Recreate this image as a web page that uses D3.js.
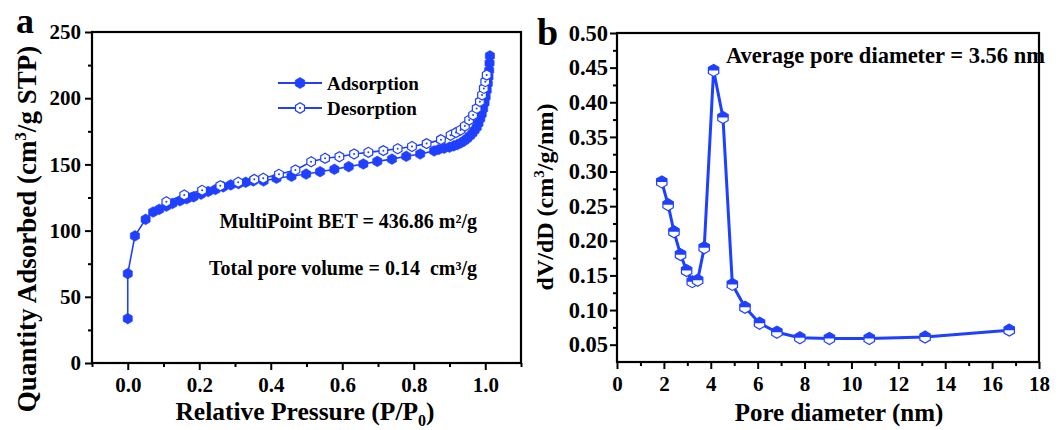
<!DOCTYPE html>
<html>
<head>
<meta charset="utf-8">
<script src="https://cdn.jsdelivr.net/npm/d3@7"></script>
<style>
  html, body { margin: 0; padding: 0; background: #fff; }
  svg { display: block; }
  text { font-family: "Liberation Serif", "Times New Roman", serif; font-weight: bold; fill: #000; }
</style>
</head>
<body>
<svg id="chart" width="1061" height="430"></svg>
<script>
// ---- Panel a: N2 isotherm (relative pressure vs quantity adsorbed) ----
const adsP = [0.0, 0.0, 0.02, 0.05, 0.071, 0.088, 0.108, 0.125, 0.146, 0.165, 0.184, 0.205, 0.225, 0.245, 0.267, 0.288, 0.31, 0.33, 0.351, 0.38,
  0.416, 0.458, 0.499, 0.538, 0.578, 0.618, 0.659, 0.698, 0.739, 0.779, 0.818, 0.857,
  0.87, 0.885, 0.9, 0.912, 0.922, 0.932, 0.941, 0.949, 0.957, 0.964, 0.97, 0.976, 0.981, 0.986, 0.99, 0.994, 0.998, 1.001, 1.004, 1.007, 1.009, 1.011, 1.012, 1.013];
const adsQ = [33.5, 67.5, 96, 108.5, 114, 116, 118.5, 120.5, 122.5, 124, 125.5, 127.5, 129.5, 131, 133, 134.5, 135.5, 136.5, 137.5, 137.5,
  139.5, 141, 142.7, 144.5, 146.3, 148.3, 150.3, 152.3, 154, 156.1, 157.9, 160.2,
  161.3, 162.2, 163, 164, 165, 166.3, 167.8, 169.5, 171.5, 173.5, 175.7, 178, 181, 184.5, 188, 192, 196.5, 201, 206, 211, 216, 221, 226.5, 232];
const desP = [0.108, 0.158, 0.208, 0.259, 0.309, 0.354, 0.379, 0.423, 0.469, 0.513, 0.552, 0.592, 0.633, 0.673, 0.715, 0.755, 0.795, 0.836, 0.876,
  0.903, 0.918, 0.931, 0.943, 0.955, 0.966, 0.976, 0.985, 0.991, 0.996, 1.0, 1.004];
const desQ = [121.8, 126.9, 130.4, 133.9, 136.5, 138.7, 139.5, 142.5, 145.8, 152, 154.6, 155.8, 157.9, 159.1, 160.4, 161.8, 163.5, 165.7, 168.7,
  172, 174, 176, 179, 183.5, 187.3, 192.3, 197.4, 202.4, 207.4, 212.5, 217.5];
const aXTicks = [0, 0.2, 0.4, 0.6, 0.8, 1.0];
const aXMinor = [-0.1, 0.1, 0.3, 0.5, 0.7, 0.9, 1.1];
const aYTicks = [0, 50, 100, 150, 200, 250];
const aYMinor = [25, 75, 125, 175, 225];

// ---- Panel b: pore size distribution ----
const poreD = [1.91, 2.18, 2.43, 2.71, 2.97, 3.21, 3.44, 3.72, 4.12, 4.52, 4.92, 5.46, 6.08, 6.82, 7.80, 9.06, 10.76, 13.14, 16.73];
const dVdD = [0.285, 0.252, 0.213, 0.180, 0.157, 0.141, 0.143, 0.190, 0.446, 0.378, 0.137, 0.104, 0.081, 0.068, 0.060, 0.059, 0.059, 0.061, 0.071];
const bXTicks = [0, 2, 4, 6, 8, 10, 12, 14, 16, 18];
const bXMinor = [1, 3, 5, 7, 9, 11, 13, 15, 17];
const bYTicks = [0.05, 0.10, 0.15, 0.20, 0.25, 0.30, 0.35, 0.40, 0.45, 0.50];
const bYMinor = [0.075, 0.125, 0.175, 0.225, 0.275, 0.325, 0.375, 0.425, 0.475];

const BLUE = "#1f40ff";
const svg = d3.select("#chart");

// pointy-top hexagon outline
function hexPath(r) {
  const pts = d3.range(6).map(i => {
    const a = Math.PI / 180 * (90 + 60 * i);
    return [r * Math.cos(a), -r * Math.sin(a)];
  });
  return "M" + pts.map(p => p.join(",")).join("L") + "Z";
}
// upper half of the same hexagon
function hexTopHalf(r) {
  const w = r * Math.cos(Math.PI / 6);
  return `M${-w},0L${-w},${-r / 2}L0,${-r}L${w},${-r / 2}L${w},0Z`;
}

function drawFrame(g, x, y, xt, xm, yt, ym, fmtX, fmtY, xFont, yFont, yPad) {
  const [x0, x1] = x.range();
  const [y0, y1] = y.range();
  g.append("g").attr("transform", `translate(0,${y0})`)
    .call(d3.axisBottom(x).tickValues(xm).tickSize(4).tickFormat(""))
    .call(a => a.select(".domain").remove());
  g.append("g").attr("transform", `translate(${x0},0)`)
    .call(d3.axisLeft(y).tickValues(ym).tickSize(4).tickFormat(""))
    .call(a => a.select(".domain").remove());
  g.append("g").attr("class", "xaxis").attr("transform", `translate(0,${y0})`)
    .call(d3.axisBottom(x).tickValues(xt).tickSize(7).tickPadding(7).tickFormat(fmtX))
    .call(a => a.select(".domain").remove())
    .call(a => a.selectAll("text").style("font-size", xFont + "px"));
  g.append("g").attr("class", "yaxis").attr("transform", `translate(${x0},0)`)
    .call(d3.axisLeft(y).tickValues(yt).tickSize(7).tickPadding(yPad).tickFormat(fmtY))
    .call(a => a.select(".domain").remove())
    .call(a => a.selectAll("text").style("font-size", yFont + "px"));
  g.selectAll(".tick line").attr("stroke", "#000").attr("stroke-width", 2);
  g.append("rect").attr("x", x0).attr("y", y1).attr("width", x1 - x0).attr("height", y0 - y1)
    .attr("fill", "none").attr("stroke", "#000").attr("stroke-width", 2.2);
}

// ===== Panel a =====
const ga = svg.append("g");
const xa = d3.scaleLinear().domain([-0.1, 1.1]).range([92, 521]);
const ya = d3.scaleLinear().domain([0, 250]).range([363, 32]);
drawFrame(ga, xa, ya, aXTicks, aXMinor, aYTicks, aYMinor, d3.format(".1f"), d3.format("d"), 21, 21, 4);

const adsData = adsP.map((p, i) => [p, adsQ[i]]);
const desData = desP.map((p, i) => [p, desQ[i]]);
const lineA = d3.line().x(d => xa(d[0])).y(d => ya(d[1]));

ga.append("path").datum(adsData).attr("d", lineA).attr("fill", "none").attr("stroke", BLUE).attr("stroke-width", 1.6);
ga.append("path").datum(desData).attr("d", lineA).attr("fill", "none").attr("stroke", BLUE).attr("stroke-width", 1.6);

ga.append("g").selectAll("path").data(adsData).join("path")
  .attr("transform", d => `translate(${xa(d[0])},${ya(d[1])})`)
  .attr("d", hexPath(5.3)).attr("fill", BLUE).attr("stroke", BLUE).attr("stroke-width", 0.6);

const desG = ga.append("g").selectAll("g").data(desData).join("g")
  .attr("transform", d => `translate(${xa(d[0])},${ya(d[1])})`);
desG.append("path").attr("d", hexPath(5)).attr("fill", "#fff").attr("stroke", BLUE).attr("stroke-width", 1.2);
desG.append("circle").attr("r", 1).attr("fill", BLUE);

// legend
const legA = [{ name: "Adsorption", y: 83, filled: true }, { name: "Desorption", y: 108, filled: false }];
legA.forEach(l => {
  ga.append("line").attr("x1", 278).attr("x2", 322).attr("y1", l.y).attr("y2", l.y).attr("stroke", BLUE).attr("stroke-width", 2);
  const m = ga.append("g").attr("transform", `translate(300,${l.y})`);
  if (l.filled) {
    m.append("path").attr("d", hexPath(5.5)).attr("fill", BLUE).attr("stroke", BLUE).attr("stroke-width", 0.6);
  } else {
    m.append("path").attr("d", hexPath(5.2)).attr("fill", "#fff").attr("stroke", BLUE).attr("stroke-width", 1.2);
    m.append("circle").attr("r", 1).attr("fill", BLUE);
  }
  ga.append("text").attr("x", 327).attr("y", l.y + 6.5).style("font-size", "19px").text(l.name);
});

ga.append("text").attr("x", 477).attr("y", 228).attr("text-anchor", "end").style("font-size", "20px")
  .text("MultiPoint BET = 436.86 m²/g");
ga.append("text").attr("x", 477).attr("y", 275).attr("text-anchor", "end").style("font-size", "20px")
  .style("white-space", "pre").text("Total pore volume = 0.14  cm³/g");

// axis titles
const xta = ga.append("text").attr("x", 305).attr("y", 420).attr("text-anchor", "middle").style("font-size", "25.5px");
xta.append("tspan").text("Relative Pressure (P/P");
xta.append("tspan").attr("dy", 6).style("font-size", "16px").text("0");
xta.append("tspan").attr("dy", -6).text(")");

const yta = ga.append("text").attr("transform", "translate(36,229) rotate(-90)").attr("text-anchor", "middle").style("font-size", "27px");
yta.append("tspan").text("Quantity Adsorbed (cm");
yta.append("tspan").attr("dy", -10).style("font-size", "17px").text("3");
yta.append("tspan").attr("dy", 10).text("/g STP)");

ga.append("text").attr("x", 16).attr("y", 33).style("font-size", "36px").text("a");

// ===== Panel b =====
const gb = svg.append("g");
const xb = d3.scaleLinear().domain([0, 18]).range([617, 1039]);
const yb = d3.scaleLinear().domain([0.025, 0.5]).range([362, 33]);
drawFrame(gb, xb, yb, bXTicks, bXMinor, bYTicks, bYMinor, d3.format("d"), d3.format(".2f"), 21, 22.5, 2);

const psd = poreD.map((d, i) => [d, dVdD[i]]);
gb.append("path").datum(psd)
  .attr("d", d3.line().x(d => xb(d[0])).y(d => yb(d[1])))
  .attr("fill", "none").attr("stroke", BLUE).attr("stroke-width", 3).attr("stroke-linejoin", "round");

const pm = gb.append("g").selectAll("g").data(psd).join("g")
  .attr("transform", d => `translate(${xb(d[0])},${yb(d[1])})`);
pm.append("path").attr("d", hexPath(6)).attr("fill", "#fff").attr("stroke", BLUE).attr("stroke-width", 1.2);
pm.append("path").attr("d", hexTopHalf(6)).attr("fill", BLUE);

gb.append("text").attr("x", 726).attr("y", 63).style("font-size", "22.5px").text("Average pore diameter = 3.56 nm");

gb.append("text").attr("x", 839).attr("y", 421).attr("text-anchor", "middle").style("font-size", "25px").text("Pore diameter (nm)");

const ytb = gb.append("text").attr("transform", "translate(553,197) rotate(-90)").attr("text-anchor", "middle").style("font-size", "24px");
ytb.append("tspan").text("dV/dD (cm");
ytb.append("tspan").attr("dy", -9).style("font-size", "15px").text("3");
ytb.append("tspan").attr("dy", 9).text("/g/nm)");

gb.append("text").attr("x", 537).attr("y", 45).style("font-size", "38px").text("b");
</script>
</body>
</html>
